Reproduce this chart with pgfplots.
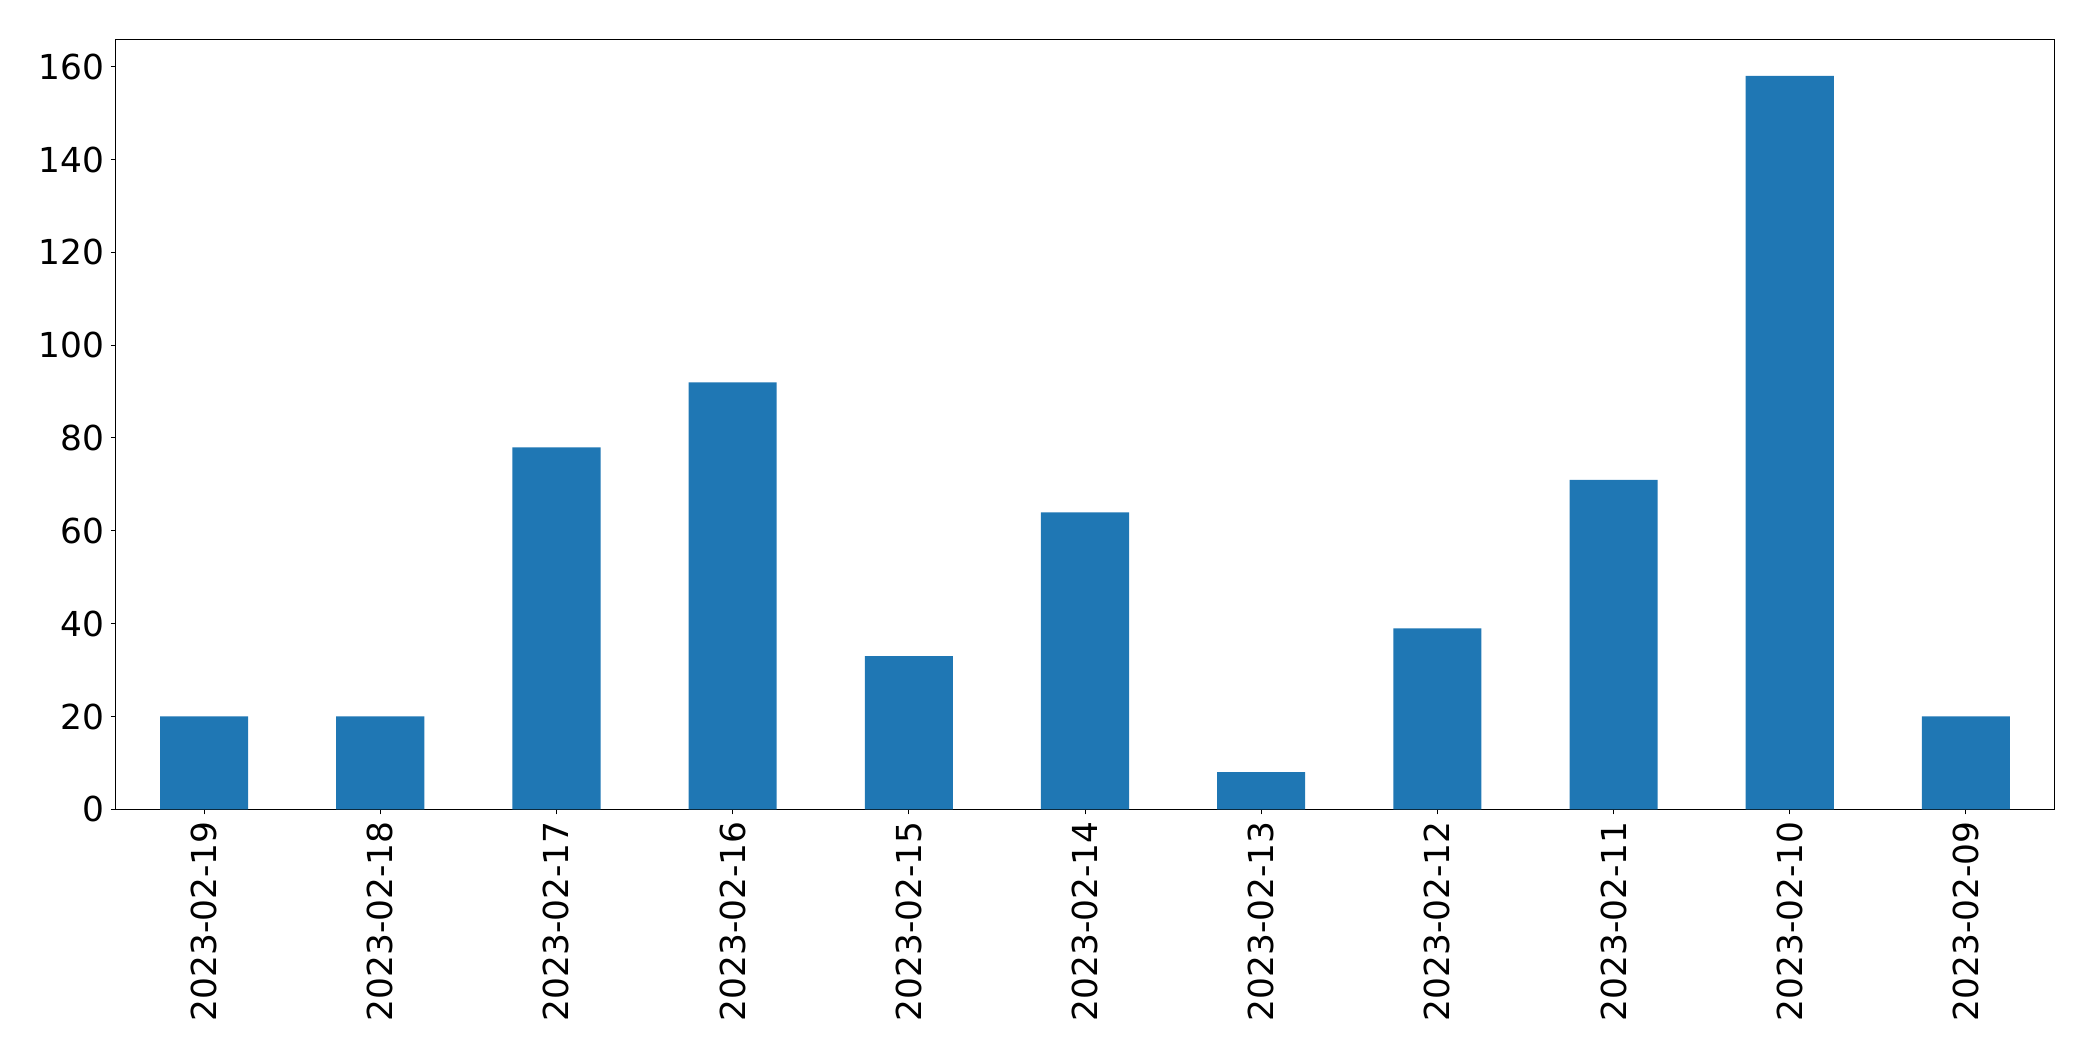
\documentclass[border=0pt]{standalone}
\usepackage{pgfplots}
\pgfplotsset{compat=1.18}
\usepackage{fontspec}
\setmainfont{DejaVu Sans}
\definecolor{tabblue}{HTML}{1F77B4}
\begin{document}
\begin{tikzpicture}
\begin{axis}[
  at={(0,0)}, anchor=south west,
  scale only axis,
  width=969pt, height=385pt,
  xmin=-0.5, xmax=10.5,
  ymin=0, ymax=165.9,
  xtick={0,1,2,3,4,5,6,7,8,9,10},
  xticklabels={2023-02-19,2023-02-18,2023-02-17,2023-02-16,2023-02-15,2023-02-14,2023-02-13,2023-02-12,2023-02-11,2023-02-10,2023-02-09},
  xticklabel style={rotate=90, anchor=east, font=\fontsize{17.2}{19}\selectfont},
  yticklabel style={font=\fontsize{17.2}{19}\selectfont},
  ytick={0,20,40,60,80,100,120,140,160},
  /pgf/number format/assume math mode=true,
  tick align=outside,
  tick pos=left,
  major tick length=2.5pt,
  every tick/.style={black, line width=0.5pt},
  axis line style={line width=0.5pt},
  ybar,
  bar width=0.5,
]
\addplot[fill=tabblue, draw=none] coordinates {
(0,20) (1,20) (2,78) (3,92) (4,33) (5,64) (6,8) (7,39) (8,71) (9,158) (10,20)
};
\end{axis}
\pgfresetboundingbox
\path (-58pt,-125.85pt) rectangle (988.5pt,404.65pt);
\end{tikzpicture}
\end{document}
